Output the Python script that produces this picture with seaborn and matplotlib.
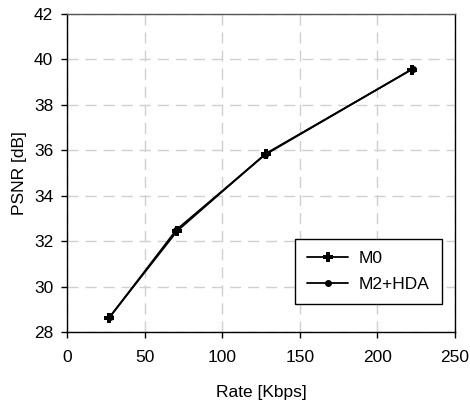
import matplotlib
matplotlib.use("Agg")
import matplotlib.pyplot as plt
import seaborn as sns
import pandas as pd

rate_m0 = [27.0, 71.0, 128.0, 222.0]
psnr_m0 = [28.62, 32.45, 35.85, 39.55]
rate_hda = [27.5, 70.5, 127.5, 223.0]
psnr_hda = [28.65, 32.50, 35.80, 39.60]
series = ["M0", "M2+HDA"]

df = pd.concat([
    pd.DataFrame({"rate": rate_m0, "psnr": psnr_m0, "series": series[0]}),
    pd.DataFrame({"rate": rate_hda, "psnr": psnr_hda, "series": series[1]}),
])

sns.set_theme(style="white")
plt.rcParams['font.family'] = ['Liberation Sans', 'DejaVu Sans']
plt.rcParams.update({"text.color": "black", "axes.labelcolor": "black",
                     "xtick.color": "black", "ytick.color": "black"})

FS = 12.5
fig = plt.figure(figsize=(4.7, 4.05), dpi=100)
ax = fig.add_axes([67/470, 1-332/405, 388/470, 318/405])

sns.lineplot(data=df[df.series == series[0]], x="rate", y="psnr", ax=ax,
             color="black", lw=1.3, marker="P", markersize=7, markeredgewidth=0,
             label=series[0], sort=False)
sns.lineplot(data=df[df.series == series[1]], x="rate", y="psnr", ax=ax,
             color="black", lw=1.3, marker="o", markersize=5, markeredgewidth=0,
             label=series[1], sort=False)

ax.set_xlim(0, 250)
ax.set_ylim(28, 42)
ax.set_xticks([0, 50, 100, 150, 200, 250])
ax.set_yticks([28, 30, 32, 34, 36, 38, 40, 42])
ax.grid(True, color="#d0d0d0", linestyle=(0, (8, 5)), lw=1.0)
ax.set_axisbelow(True)
for s in ax.spines.values():
    s.set_color("black")
    s.set_linewidth(1.0)
ax.spines['top'].set_color("#555555")
ax.tick_params(axis="both", direction="out", length=4, width=1, color="black",
               labelsize=FS, bottom=True, left=True)
ax.tick_params(axis="x", pad=9)
ax.tick_params(axis="y", pad=6)
ax.set_xlabel("Rate [Kbps]", fontsize=FS, labelpad=14)
ax.set_ylabel("PSNR [dB]", fontsize=FS, labelpad=5)

leg = ax.legend(loc="lower right", bbox_to_anchor=(0.966, 0.088), fontsize=FS,
                frameon=True, fancybox=False, edgecolor="black", framealpha=1,
                borderaxespad=0, handlelength=2.4, borderpad=0.7,
                labelspacing=0.6, handletextpad=0.6)
leg.get_frame().set_linewidth(1.0)

fig.savefig("out.png", dpi=100)
